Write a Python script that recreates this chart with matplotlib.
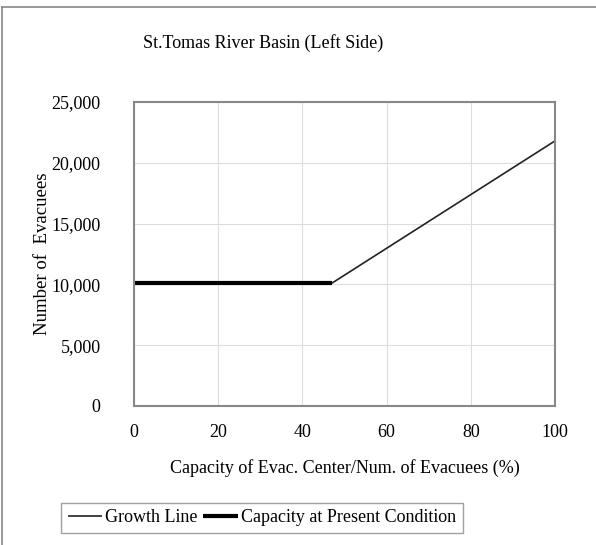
import matplotlib
matplotlib.use("Agg")
import matplotlib.pyplot as plt
from matplotlib.lines import Line2D

plt.rcParams['font.family'] = ['Liberation Serif', 'DejaVu Serif']

title = "St.Tomas River Basin (Left Side)"
xlabel = "Capacity of Evac. Center/Num. of Evacuees (%)"
ylabel = "Number of  Evacuees"

growth_x = [0, 47, 100]
growth_y = [10100, 10100, 21800]
capacity_x = [0, 47]
capacity_y = [10100, 10100]

xticks = [0, 20, 40, 60, 80, 100]
yticks = [0, 5000, 10000, 15000, 20000, 25000]

W, H = 596, 545
fig = plt.figure(figsize=(W / 100, H / 100), dpi=100)
ax = fig.add_axes([134 / W, 1 - 406 / H, (555 - 134) / W, (406 - 102) / H])

ax.plot(growth_x, growth_y, color='#222222', lw=1.2, label='Growth Line', solid_capstyle='butt')
ax.plot(capacity_x, capacity_y, color='black', lw=3, label='Capacity at Present Condition', solid_capstyle='butt')

ax.set_xlim(0, 100)
ax.set_ylim(0, 25000)
ax.set_xticks(xticks)
ax.set_yticks(yticks)
ax.set_yticklabels([f"{v:,}" for v in yticks])
ax.tick_params(length=0, labelsize=13)
ax.tick_params(axis='y', pad=24)
ax.tick_params(axis='x', pad=13)
ax.grid(True, color='#dddddd', lw=0.8)
ax.set_axisbelow(True)
for s in ax.spines.values():
    s.set_color('#888888')
    s.set_linewidth(1.5)

ax.set_xlabel(xlabel, fontsize=13, labelpad=13)
ax.set_ylabel(ylabel, fontsize=13.5, labelpad=0)
fig.text(263 / W, 1 - 43 / H, title, ha='center', va='center', fontsize=13)

leg = fig.legend(loc='center', bbox_to_anchor=(262 / W, 1 - 518 / H), ncol=2,
                 fontsize=13, frameon=True, fancybox=False, handlelength=1.9,
                 handletextpad=0.2, columnspacing=0.3, borderpad=0.35)
leg.get_frame().set_edgecolor('#888888')
leg.get_frame().set_linewidth(1.0)

fig.add_artist(Line2D([2 / W, 1], [1 - 7 / H, 1 - 7 / H], transform=fig.transFigure, color='#888888', lw=1.2))
fig.add_artist(Line2D([2 / W, 2 / W], [0, 1 - 7 / H], transform=fig.transFigure, color='#888888', lw=1.2))

fig.savefig("out.png", dpi=100)
